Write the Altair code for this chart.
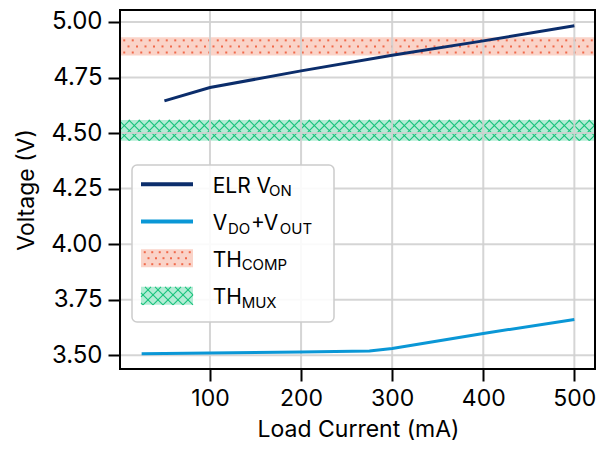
import altair as alt
import pandas as pd

# ---------------- data ----------------
ELR_X = [50, 100, 200, 300, 400, 500]
ELR_Y = [4.645, 4.705, 4.780, 4.850, 4.915, 4.983]
VDO_X = [25, 100, 200, 275, 300, 400, 500]
VDO_Y = [3.507, 3.510, 3.515, 3.519, 3.530, 3.598, 3.661]
TH_COMP = [4.849, 4.931]
TH_MUX = [4.466, 4.559]
X_TICKS = [100, 200, 300, 400, 500]
Y_TICKS = [3.50, 3.75, 4.00, 4.25, 4.50, 4.75, 5.00]
LEGEND_LABELS = [
    [("ELR V", False), ("ON", True)],
    [("V", False), ("DO", True), ("+V", False), ("OUT", True)],
    [("TH", False), ("COMP", True)],
    [("TH", False), ("MUX", True)],
]

# ---------------- layout / style ----------------
FONT = "Inter"
W, H = 476, 359
X_DOMAIN = [1.25, 523.75]
Y_DOMAIN = [3.438, 5.054]
PL, PT = 120, 10  # plot origin on page
NAVY = "#0b2d6b"
BLUE = "#0a97d6"
SALMON_FILL = "#fad3c8"
SALMON_DOT = "#f0694a"
GREEN_FILL = "#b3ecd5"
GREEN_LINE = "#17c27b"
GRID = "#d0d0d0"
MAIN_FS, SUB_FS = 21, 15
# approximate advance widths (em) used to chain the legend text pieces
EM = {"E": .56, "L": .50, "R": .62, " ": .27, "V": .68, "O": .76, "N": .74, "D": .71,
      "+": .64, "U": .72, "T": .60, "H": .73, "C": .72, "M": .87, "P": .62, "X": .66}


def to_dx(px):
    return X_DOMAIN[0] + (px - PL) / W * (X_DOMAIN[1] - X_DOMAIN[0])


def to_dy(py):
    return Y_DOMAIN[1] - (py - PT) / H * (Y_DOMAIN[1] - Y_DOMAIN[0])


def to_py(v):
    return PT + (Y_DOMAIN[1] - v) / (Y_DOMAIN[1] - Y_DOMAIN[0]) * H


def dots(x0, x1, y0, y1, step=8.5):
    pts = []
    h = y1 - y0
    for i in range(3):
        py = y0 + (i + 0.5) * h / 3
        px = x0 + step / 2 + (step / 2 if i == 1 else 0)
        while px < x1:
            pts.append({"x": to_dx(px), "y": to_dy(py)})
            px += step
    return pd.DataFrame(pts)


def cross(x0, x1, y0, y1, s=10.0):
    hh = y1 - y0
    segs = []
    c = x0 - hh
    while c <= x1 + hh:
        lo, hi = max(0, x0 - c), min(hh, x1 - c)
        if lo < hi:
            segs.append((c + lo, y1 - lo, c + hi, y1 - hi))
        lo, hi = max(0, c - x1), min(hh, c - x0)
        if lo < hi:
            segs.append((c - lo, y1 - lo, c - hi, y1 - hi))
        c += s
    return pd.DataFrame([{"x1": to_dx(a), "y1": to_dy(b), "x2": to_dx(cc), "y2": to_dy(d)}
                         for a, b, cc, d in segs])


xs = alt.Scale(domain=X_DOMAIN, nice=False, zero=False)
ys = alt.Scale(domain=Y_DOMAIN, nice=False, zero=False)
x_axis = alt.Axis(values=X_TICKS, format="d", title="Load Current (mA)", grid=False,
                  domain=False, tickColor="black", tickWidth=2, tickSize=12,
                  labelFont=FONT, labelFontSize=23, labelColor="black", labelPadding=6,
                  titleFont=FONT, titleFontSize=23, titleFontWeight="normal",
                  titleColor="black", titlePadding=8, zindex=1)
y_axis = alt.Axis(values=Y_TICKS, format=".2f", title="Voltage (V)", grid=False,
                  domain=False, tickColor="black", tickWidth=2, tickSize=12,
                  labelFont=FONT, labelFontSize=24, labelColor="black", labelPadding=6,
                  titleFont=FONT, titleFontSize=23, titleFontWeight="normal",
                  titleColor="black", titlePadding=12, zindex=1)


def X(f):
    return alt.X(f, scale=xs, axis=x_axis)


def Y(f):
    return alt.Y(f, scale=ys, axis=y_axis)


one = pd.DataFrame({"a": [0]})
layers = []

# bands
for lohi, fill in [(TH_COMP, SALMON_FILL), (TH_MUX, GREEN_FILL)]:
    layers.append(alt.Chart(pd.DataFrame({"lo": [lohi[0]], "hi": [lohi[1]]})).mark_rect(
        clip=True, fill=fill).encode(
        x=alt.value(0), x2=alt.value(W), y=Y("lo:Q"), y2="hi:Q"))

# patterns in the main bands
layers.append(alt.Chart(dots(PL, PL + W, to_py(TH_COMP[1]), to_py(TH_COMP[0]))).mark_square(
    size=4, color=SALMON_DOT, opacity=1, clip=True).encode(x=X("x:Q"), y=Y("y:Q")))
layers.append(alt.Chart(cross(PL, PL + W, to_py(TH_MUX[1]), to_py(TH_MUX[0]))).mark_rule(
    color=GREEN_LINE, strokeWidth=1.1, clip=True).encode(
    x=X("x1:Q"), y=Y("y1:Q"), x2="x2:Q", y2="y2:Q"))

# grid
layers.append(alt.Chart(pd.DataFrame({"v": X_TICKS})).mark_rule(
    color=GRID, strokeWidth=2, opacity=0.9).encode(x=X("v:Q")))
layers.append(alt.Chart(pd.DataFrame({"v": Y_TICKS})).mark_rule(
    color=GRID, strokeWidth=2, opacity=0.9).encode(y=Y("v:Q")))

# lines
for xv, yv, col in [(ELR_X, ELR_Y, NAVY), (VDO_X, VDO_Y, BLUE)]:
    layers.append(alt.Chart(pd.DataFrame({"x": xv, "y": yv})).mark_line(
        strokeWidth=3, clip=True, color=col).encode(x=X("x:Q"), y=Y("y:Q")))

# legend box
LB = (132, 334, 165, 322)
layers.append(alt.Chart(one).mark_rect(
    fill="white", fillOpacity=0.88, stroke="#cccccc", strokeWidth=1.5, cornerRadius=5).encode(
    x=alt.value(LB[0] - PL), x2=alt.value(LB[1] - PL),
    y=alt.value(LB[2] - PT), y2=alt.value(LB[3] - PT)))

ROWS = [184.3, 221.5, 258.2, 295.8]
SX0, SX1 = 141, 193
for color, yc in [(NAVY, ROWS[0]), (BLUE, ROWS[1])]:
    layers.append(alt.Chart(one).mark_rule(color=color, strokeWidth=4).encode(
        x=alt.value(SX0 - PL), x2=alt.value(SX1 - PL), y=alt.value(yc - PT)))
for fill, yc in [(SALMON_FILL, ROWS[2]), (GREEN_FILL, ROWS[3])]:
    layers.append(alt.Chart(one).mark_rect(fill=fill).encode(
        x=alt.value(SX0 - PL), x2=alt.value(SX1 - PL),
        y=alt.value(yc - 9 - PT), y2=alt.value(yc + 9 - PT)))
layers.append(alt.Chart(dots(SX0, SX1, ROWS[2] - 9, ROWS[2] + 9, step=7.5)).mark_square(
    size=4, color=SALMON_DOT, opacity=1).encode(x=X("x:Q"), y=Y("y:Q")))
layers.append(alt.Chart(cross(SX0, SX1, ROWS[3] - 9, ROWS[3] + 9, s=10.0)).mark_rule(
    color=GREEN_LINE, strokeWidth=1.1).encode(
    x=X("x1:Q"), y=Y("y1:Q"), x2="x2:Q", y2="y2:Q"))

# legend texts: pieces chained left to right, subscripts smaller and lowered
TX0 = 212.7
for row, pieces in enumerate(LEGEND_LABELS):
    base = ROWS[row] + 8.5
    px = TX0
    for txt, sub in pieces:
        fs = SUB_FS if sub else MAIN_FS
        layers.append(alt.Chart(one).mark_text(
            text=txt, font=FONT, fontSize=fs, color="black",
            align="left", baseline="alphabetic").encode(
            x=alt.value(px - PL), y=alt.value(base + (3.5 if sub else 0) - PT)))
        px += sum(EM.get(ch, .6) for ch in txt) * fs + 1.0

# frame
fr = dict(color="black", strokeWidth=2, strokeCap="square")
layers.append(alt.Chart(one).mark_rule(**fr).encode(x=alt.value(0), x2=alt.value(W - 1), y=alt.value(0)))
layers.append(alt.Chart(one).mark_rule(**fr).encode(x=alt.value(0), x2=alt.value(W - 1), y=alt.value(H)))
layers.append(alt.Chart(one).mark_rule(**fr).encode(x=alt.value(0), y=alt.value(0), y2=alt.value(H)))
layers.append(alt.Chart(one).mark_rule(**fr).encode(x=alt.value(W - 1), y=alt.value(0), y2=alt.value(H)))

chart = alt.layer(*layers).properties(
    width=W, height=H,
    autosize=alt.AutoSizeParams(type="none"),
    padding={"left": 112, "top": 2, "right": 0, "bottom": 73},
).configure_view(stroke=None).configure(background="white")

chart.save("out.html", embed_options={"renderer": "svg", "actions": False})
